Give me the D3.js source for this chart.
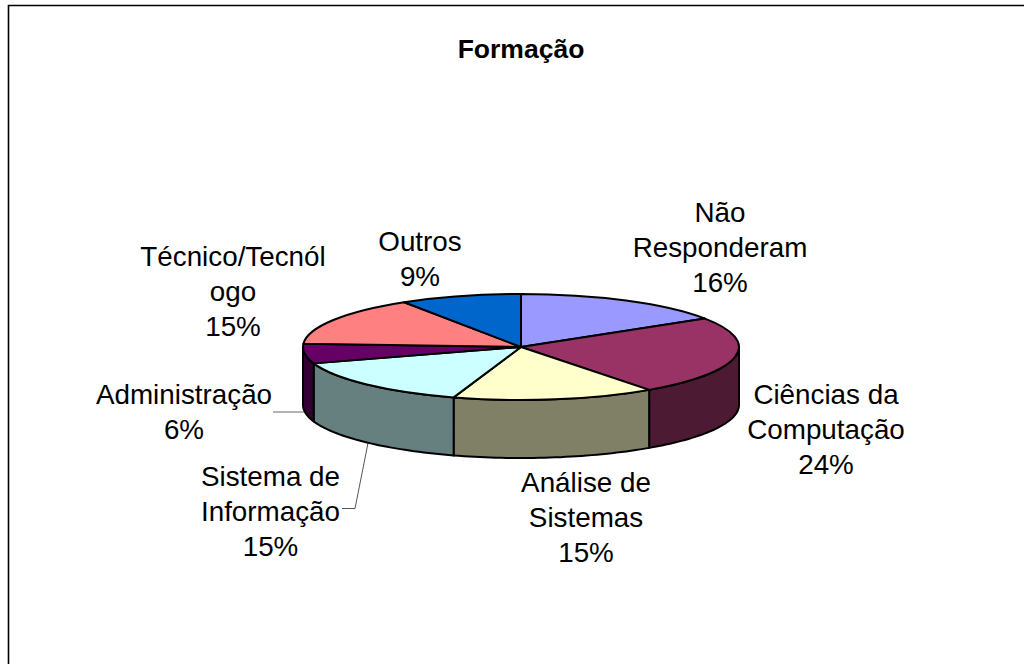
<!DOCTYPE html>
<html><head><meta charset="utf-8">
<script src="https://cdn.jsdelivr.net/npm/d3@7"></script>
<style>html,body{margin:0;padding:0;background:#fff}svg{display:block}text{font-family:"Liberation Sans",Arial,sans-serif;fill:#000}</style>
</head><body><svg id="c" width="1024" height="664"></svg>
<script>
const categories=["Não Responderam","Ciências da Computação","Análise de Sistemas","Sistema de Informação","Administração","Técnico/Tecnólogo","Outros"];
const values=[16,24,15,15,6,15,9];
const topColors=["#9999FF","#993366","#FFFFCC","#CCFFFF","#660066","#FF8080","#0066CC"];
const sideColors=["#4D4D80","#4D1A33","#808066","#668080","#330033","#804040","#003366"];
const labelLines=[["Não","Responderam","16%"],["Ciências da","Computação","24%"],["Análise de","Sistemas","15%"],["Sistema de","Informação","15%"],["Administração","6%"],["Técnico/Tecnól","ogo","15%"],["Outros","9%"]];
const labelPos=[[720,222],[826,404],[586,492],[270.5,486],[184,404],[233,266],[420,251]];
const title="Formação";

const cx=521,cy=347,rx=218,ry=53,depth=58;
const svg=d3.select("#c");
svg.append("path").attr("d","M8.5,664V5.5H1024").attr("fill","none").attr("stroke","#000").attr("stroke-width",1.6);
svg.append("text").attr("x",521).attr("y",58).attr("text-anchor","middle").attr("font-weight","bold").attr("font-size",26.5).text(title);

const pie=d3.pie().sort(null).value(d=>d);
const arcs=pie(values);
const px=a=>cx+rx*Math.sin(a), py=a=>cy-ry*Math.cos(a);
const line=d3.line().x(d=>d[0]).y(d=>d[1]);

// leader lines
svg.append("path").attr("d",line([[273,412],[304,412]])).attr("fill","none").attr("stroke","#808080").attr("stroke-width",1.2);
svg.append("path").attr("d",line([[368,443],[355,508.5],[342,508.5]])).attr("fill","none").attr("stroke","#555").attr("stroke-width",1);

// sides: visible only on the front half (angle 90deg..270deg)
const sides=svg.append("g");
arcs.forEach((d,i)=>{
  const a0=Math.max(d.startAngle,Math.PI/2),a1=Math.min(d.endAngle,Math.PI*1.5);
  if(a1<=a0) return;
  const n=Math.max(2,Math.ceil((a1-a0)*40));
  const upper=d3.range(n+1).map(k=>{const a=a0+(a1-a0)*k/n;return [px(a),py(a)]});
  const lower=upper.slice().reverse().map(p=>[p[0],p[1]+depth]);
  sides.append("path").attr("d",line(upper.concat(lower))+"Z").attr("fill",sideColors[i]).attr("stroke","#000").attr("stroke-width",2).attr("stroke-linejoin","round");
});
// tops
const arc=d3.arc().innerRadius(0).outerRadius(1);
const tops=svg.append("g").attr("transform",`translate(${cx},${cy}) scale(${rx},${ry})`);
tops.selectAll("path").data(arcs).join("path").attr("d",arc).attr("fill",(d,i)=>topColors[i]).attr("stroke","#000").attr("stroke-width",2).attr("vector-effect","non-scaling-stroke").attr("stroke-linejoin","round");

// labels
const lh=34.8;
labelLines.forEach((lines,i)=>{
  const t=svg.append("text").attr("text-anchor","middle").attr("font-size",27.8);
  lines.forEach((s,k)=>t.append("tspan").attr("x",labelPos[i][0]).attr("y",labelPos[i][1]+k*lh).text(s));
});
</script></body></html>
